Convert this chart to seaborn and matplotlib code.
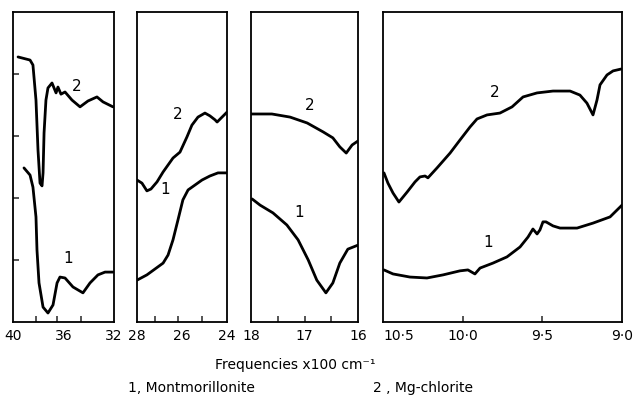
import matplotlib
matplotlib.use("Agg")
import matplotlib.pyplot as plt
import seaborn as sns
import pandas as pd
from matplotlib.ticker import FixedLocator

sns.set_theme(style="white")
plt.rcParams['font.family'] = ['DejaVu Sans']

# ---------------- data (transmittance, arbitrary units 0-100) ----------------
# Panel A: 4000-3200 cm-1 (x100)
a2_freq = [39.60, 38.65, 38.42, 38.18, 38.02, 37.86, 37.70, 37.62, 37.54, 37.39, 37.23, 36.91,
           36.75, 36.59, 36.44, 36.20, 35.88, 35.33, 34.69, 34.06, 33.35, 32.87, 32.08]
a2_val = [85.5, 84.5, 82.9, 71.6, 55.5, 44.8, 43.9, 48.1, 61.0, 71.6, 75.5, 77.1,
          75.5, 73.9, 75.8, 73.5, 74.2, 71.6, 69.4, 71.3, 72.6, 71.0, 69.4]
a1_freq = [39.13, 38.65, 38.42, 38.18, 38.10, 37.94, 37.62, 37.23, 36.83, 36.51, 36.28, 35.88,
           35.25, 34.46, 33.90, 33.27, 32.71, 32.08]
a1_val = [49.7, 47.4, 43.5, 33.9, 23.2, 12.6, 4.8, 2.9, 5.5, 12.6, 14.5, 14.2,
          11.3, 9.4, 12.6, 15.2, 16.1, 16.1]

# Panel B: 2800-2400
b2_freq = [28.00, 27.78, 27.56, 27.38, 27.11, 26.84, 26.40, 26.09, 25.78, 25.56, 25.29, 24.98,
           24.76, 24.53, 24.44, 24.22, 24.00]
b2_val = [45.8, 44.8, 42.3, 42.9, 45.2, 48.4, 52.9, 54.8, 59.7, 63.5, 66.1, 67.4,
          66.5, 65.2, 64.5, 66.1, 67.7]
b1_freq = [28.00, 27.56, 27.20, 26.84, 26.62, 26.40, 26.18, 25.96, 25.73, 25.42, 25.11, 24.76,
           24.40, 24.00]
b1_val = [13.5, 15.2, 17.1, 19.0, 21.6, 26.5, 32.9, 39.4, 42.6, 44.2, 45.8, 47.1, 48.1, 48.1]

# Panel C: 1800-1600
c2_freq = [18.00, 17.61, 17.27, 16.95, 16.65, 16.47, 16.34, 16.22, 16.11, 16.00]
c2_val = [67.1, 67.1, 66.1, 64.2, 61.3, 59.4, 56.5, 54.5, 57.1, 58.4]
c1_freq = [17.98, 17.83, 17.59, 17.33, 17.12, 16.93, 16.77, 16.60, 16.47, 16.34, 16.19, 16.00]
c1_val = [39.7, 37.7, 35.2, 31.3, 26.5, 20.0, 13.5, 9.4, 12.6, 19.0, 23.5, 24.8]

# Panel D: 1050-900
d2_freq = [10.494, 10.469, 10.437, 10.400, 10.349, 10.299, 10.268, 10.236, 10.218, 10.161, 10.079,
           10.017, 9.954, 9.910, 9.847, 9.766, 9.690, 9.621, 9.533, 9.433, 9.326, 9.264, 9.220,
           9.182, 9.157, 9.138, 9.094, 9.056, 9.006]
d2_val = [48.1, 44.8, 41.6, 38.7, 41.9, 45.2, 46.8, 47.1, 46.5, 49.7, 54.5,
          58.7, 62.9, 65.5, 66.8, 67.4, 69.4, 72.6, 73.9, 74.5, 74.5, 73.2, 70.6,
          66.8, 71.6, 76.5, 79.7, 81.0, 81.6]
d1_freq = [10.494, 10.437, 10.331, 10.224, 10.123, 10.017, 9.967, 9.923, 9.891, 9.810, 9.722,
           9.640, 9.590, 9.559, 9.533, 9.515, 9.496, 9.477, 9.433, 9.389, 9.282, 9.182, 9.075, 9.000]
d1_val = [16.8, 15.5, 14.5, 14.2, 15.2, 16.5, 16.8, 15.5, 17.4, 19.0, 21.0,
          24.2, 27.4, 30.0, 28.4, 29.7, 32.3, 32.3, 31.0, 30.3, 30.3, 31.9, 33.9, 37.7]

# axis ranges, ticks and labels
x_ranges = [(40, 32), (28, 24), (18, 16), (10.5, 9.0)]
label_pos = [[40, 36, 32], [28, 26, 24], [18, 17, 16], [10.5, 10.0, 9.5, 9.0]]
label_txt = [["40", "36", "32"], ["28", "26", "24"], ["18", "17", "16"],
             ["10·5", "10·0", "9·5", "9·0"]]
inner_ticks = [[38.2, 36.5, 34.6], [27.2, 26.2, 25.1], [17.5, 17.0, 16.5], [10.0, 9.5]]
y_ticks = [20, 40, 60, 80]
# curve label positions (freq, value) for "1" and "2"
lab1 = [(35.64, 20.6), (26.76, 42.6), (17.10, 35.2), (9.841, 25.8)]
lab2 = [(34.93, 76.1), (26.18, 66.8), (16.90, 70.0), (9.797, 73.9)]

series = [(a1_freq, a1_val, a2_freq, a2_val),
          (b1_freq, b1_val, b2_freq, b2_val),
          (c1_freq, c1_val, c2_freq, c2_val),
          (d1_freq, d1_val, d2_freq, d2_val)]

# ---------------- figure ----------------
W, H = 638, 397
fig = plt.figure(figsize=(W / 100, H / 100), dpi=100)
panels_px = [(13, 114), (137, 227), (251, 358), (383, 622)]
top_px, bot_px = 12, 322

for i, ((l, r), (f1, v1, f2, v2)) in enumerate(zip(panels_px, series)):
    ax = fig.add_axes([l / W, (H - bot_px) / H, (r - l) / W, (bot_px - top_px) / H])
    df1 = pd.DataFrame({"freq": f1, "val": v1})
    df2 = pd.DataFrame({"freq": f2, "val": v2})
    for df in (df1, df2):
        sns.lineplot(data=df, x="freq", y="val", ax=ax, color="black", lw=2.0,
                     sort=False, estimator=None,
                     solid_joinstyle="round", solid_capstyle="round")
    ax.set_xlim(*x_ranges[i])
    ax.set_ylim(0, 100)
    ax.set_xlabel("")
    ax.set_ylabel("")
    for s in ax.spines.values():
        s.set_visible(True)
        s.set_color("black")
        s.set_linewidth(1.3)
    ax.xaxis.remove_overlapping_locs = False
    ax.set_xticks(label_pos[i])
    ax.set_xticklabels(label_txt[i], fontsize=10, color="black")
    ax.xaxis.set_minor_locator(FixedLocator(inner_ticks[i]))
    ax.tick_params(axis="x", which="major", length=0, pad=5, bottom=True)
    ax.tick_params(axis="x", which="minor", direction="in", length=4, width=1.1, bottom=True)
    if i == 3:
        ax.get_xticklabels()[0].set_horizontalalignment("left")
    if i == 0:
        ax.set_yticks(y_ticks)
        ax.set_yticklabels([])
        ax.tick_params(axis="y", which="major", direction="in", length=4, width=1.1, left=True)
    else:
        ax.set_yticks([])
    ax.text(*lab1[i], "1", fontsize=11, ha="center", va="center", color="black")
    ax.text(*lab2[i], "2", fontsize=11, ha="center", va="center", color="black")

fig.text(295 / W, 1 - 365 / H, "Frequencies x100 cm⁻¹", fontsize=10, ha="center", va="center", color="black")
fig.text(191 / W, 1 - 388 / H, "1, Montmorillonite", fontsize=10, ha="center", va="center", color="black")
fig.text(373 / W, 1 - 388 / H, "2 , Mg-chlorite", fontsize=10, ha="left", va="center", color="black")

fig.savefig("out.png", dpi=100)
